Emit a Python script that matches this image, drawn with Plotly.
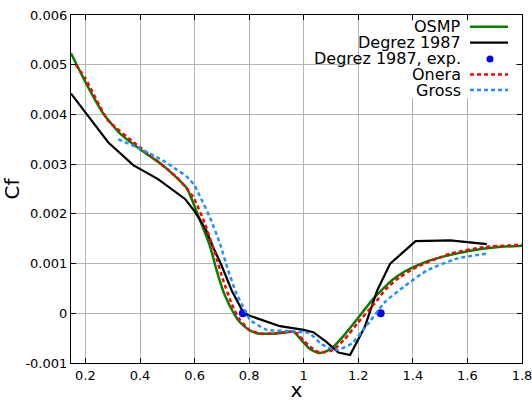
import plotly.graph_objects as go

# ---- data ----
osmp_x = [0.147, 0.2, 0.265, 0.326, 0.4, 0.485, 0.571, 0.6, 0.62, 0.656, 0.681, 0.711, 0.748, 0.766,
          0.803, 0.839, 0.88, 0.93, 0.962, 0.993, 1.023, 1.055, 1.084, 1.108, 1.145, 1.194, 1.25,
          1.29, 1.329, 1.37, 1.414, 1.46, 1.512, 1.56, 1.61, 1.707, 1.8]
osmp_y = [0.00523, 0.00465, 0.00402, 0.00362, 0.00330, 0.00297, 0.00252, 0.00215, 0.00187, 0.00136,
          0.00086, 0.00036, -0.00004, -0.00018, -0.00035, -0.00041, -0.00041, -0.00039, -0.00037,
          -0.00055, -0.00072, -0.0008, -0.00076, -0.00068, -0.00046, -0.00013, 0.00026, 0.00049,
          0.00069, 0.00084, 0.00096, 0.00106, 0.00114, 0.0012, 0.00126, 0.00133, 0.00136]

degrez_x = [0.147, 0.283, 0.375, 0.466, 0.565, 0.6, 0.64, 0.668, 0.699, 0.736, 0.778, 0.797, 0.913,
            0.995, 1.035, 1.084, 1.127, 1.17, 1.224, 1.27, 1.317, 1.41, 1.537, 1.671]
degrez_y = [0.00442, 0.00344, 0.00298, 0.0027, 0.0023, 0.00205, 0.0017, 0.00133, 0.00096, 0.00046,
            0.00002, -0.00004, -0.00026, -0.00033, -0.00038, -0.00058, -0.00079, -0.00084, -0.00027,
            0.00047, 0.001, 0.00145, 0.001465, 0.00139]

exp_x = [0.777, 1.282]
exp_y = [0.0, 0.0]

onera_x = [0.165, 0.2, 0.283, 0.4, 0.534, 0.595, 0.638, 0.675, 0.705, 0.736, 0.762, 0.8, 0.84, 0.9,
           0.95, 0.974, 1.0, 1.03, 1.059, 1.108, 1.15, 1.2, 1.26, 1.3, 1.35, 1.414, 1.537, 1.659, 1.8]
onera_y = [0.0050, 0.00472, 0.00388, 0.00334, 0.00274, 0.00234, 0.0018, 0.0012, 0.00066, 0.00019,
           -0.0001, -0.00033, -0.00041, -0.0004, -0.00037, -0.0004, -0.00055, -0.0007, -0.00079,
           -0.00074, -0.00052, -0.00018, 0.0002, 0.00048, 0.00072, 0.00093, 0.0012, 0.00133, 0.00138]

gross_x = [0.32, 0.4, 0.485, 0.534, 0.571, 0.6, 0.619, 0.656, 0.693, 0.723, 0.754, 0.785, 0.803,
           0.864, 0.95, 1.02, 1.065, 1.121, 1.178, 1.226, 1.3, 1.366, 1.451, 1.561, 1.671]
gross_y = [0.0035, 0.00331, 0.00307, 0.00289, 0.00275, 0.00257, 0.00236, 0.00193, 0.0014, 0.00086,
           0.00039, 0.00006, -0.00013, -0.00033, -0.00036, -0.0004, -0.00062, -0.00074, -0.0006,
           -0.00028, 0.00024, 0.00053, 0.00086, 0.0011, 0.0012]

x_ticks = [0.2, 0.4, 0.6, 0.8, 1.0, 1.2, 1.4, 1.6, 1.8]
x_tick_labels = ["0.2", "0.4", "0.6", "0.8", "1", "1.2", "1.4", "1.6", "1.8"]
y_ticks = [-0.001, 0, 0.001, 0.002, 0.003, 0.004, 0.005, 0.006]
y_tick_labels = ["-0.001", "0", "0.001", "0.002", "0.003", "0.004", "0.005", "0.006"]

legend_names = ["OSMP", "Degrez 1987", "Degrez 1987, exp.", "Onera", "Gross"]

GREEN = "#008000"
BLACK = "#000000"
BLUE = "#0000ff"
RED = "#ff0000"
SKY = "#1e90ff"

fig = go.Figure()
fig.add_trace(go.Scatter(x=osmp_x, y=osmp_y, mode="lines", name=legend_names[0],
                         line=dict(color=GREEN, width=2.5, shape="spline", smoothing=0.5)))
fig.add_trace(go.Scatter(x=degrez_x, y=degrez_y, mode="lines", name=legend_names[1],
                         line=dict(color=BLACK, width=2.2)))
fig.add_trace(go.Scatter(x=exp_x, y=exp_y, mode="markers", name=legend_names[2],
                         marker=dict(color=BLUE, size=8)))
fig.add_trace(go.Scatter(x=onera_x, y=onera_y, mode="lines", name=legend_names[3],
                         line=dict(color=RED, width=2.5, dash="4px,3px", shape="spline", smoothing=0.5)))
fig.add_trace(go.Scatter(x=gross_x, y=gross_y, mode="lines", name=legend_names[4],
                         line=dict(color=SKY, width=2.5, dash="4px,3px", shape="spline", smoothing=0.5)))

# ---- legend drawn gnuplot-style (text left, sample right) ----
L, R, T, B = 71, 522, 15, 363
def px(xp):
    return (xp - L) / (R - L)
def py(yp):
    return (B - yp) / (B - T)

shapes = [dict(type="rect", xref="paper", yref="paper", x0=px(360), x1=px(515), y0=py(98), y1=py(21),
               fillcolor="white", line=dict(width=0), layer="above")]
rows = [26.7, 42.7, 59.0, 74.5, 90.0]
styles = [(GREEN, "solid", 2.5), (BLACK, "solid", 2.2), None, (RED, "4px,3px", 2.5), (SKY, "4px,3px", 2.5)]
annotations = []
for name, ry, st in zip(legend_names, rows, styles):
    annotations.append(dict(xref="paper", yref="paper", x=px(462), y=py(ry), text=name, showarrow=False,
                            xanchor="right", yanchor="middle", font=dict(size=16, color="black"),
                            borderpad=0))
    if st is None:
        shapes.append(dict(type="circle", xref="paper", yref="paper", x0=px(486.5), x1=px(493.5),
                           y0=py(ry + 3.5), y1=py(ry - 3.5), fillcolor=BLUE, line=dict(width=0), layer="above"))
    else:
        shapes.append(dict(type="line", xref="paper", yref="paper", x0=px(470), x1=px(508), y0=py(ry), y1=py(ry),
                           line=dict(color=st[0], dash=st[1], width=st[2]), layer="above"))

axis_common = dict(showline=True, linecolor="black", linewidth=1.2, mirror="ticks", ticks="inside",
                   ticklen=5, tickcolor="black", showgrid=True, gridcolor="#b4b4b4", gridwidth=1,
                   zeroline=False, tickfont=dict(size=13, color="black"), automargin=False,
                   ticklabeloverflow="allow")

fig.update_layout(
    width=532, height=402,
    margin=dict(l=L, r=532 - R, t=T, b=402 - B, autoexpand=False),
    paper_bgcolor="white", plot_bgcolor="white",
    font=dict(family="DejaVu Sans", color="black"),
    showlegend=False,
    shapes=shapes, annotations=annotations,
    xaxis=dict(range=[0.147, 1.8], tickvals=x_ticks, ticktext=x_tick_labels, ticklabelstandoff=0,
               title=dict(text="x", font=dict(size=20), standoff=0), **axis_common),
    yaxis=dict(range=[-0.001, 0.006], tickvals=y_ticks, ticktext=y_tick_labels,
               title=dict(text="Cf", font=dict(size=20), standoff=6), **axis_common),
)

fig.write_html("out.html", config={"displayModeBar": False},
               post_script="document.body.style.margin='0';document.body.style.overflow='hidden';")
